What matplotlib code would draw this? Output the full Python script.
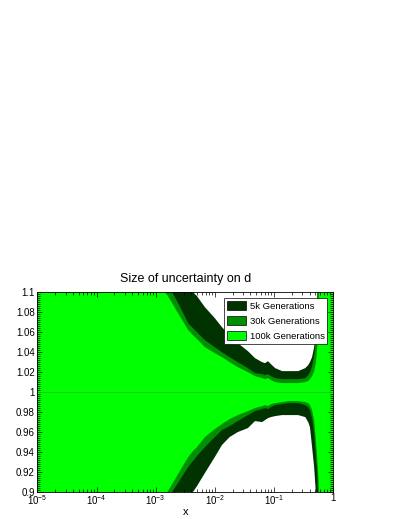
#!/usr/bin/env python3
"""
Size of uncertainty on d: bands for 5k, 30k and 100k generations
"""

import matplotlib
matplotlib.use('Agg')
import matplotlib.pyplot as plt
import numpy as np
from matplotlib.ticker import FixedLocator, FuncFormatter, MultipleLocator, LogLocator, NullFormatter

plt.rcParams['font.family'] = ['Liberation Sans', 'DejaVu Sans']
plt.rcParams['mathtext.default'] = 'regular'

# x grid (shared by all bands)
x = [1e-5, 1.0e-3, 1.41e-3, 1.58e-3, 1.9e-3, 2.5e-3, 3.55e-3, 4.27e-3, 5.0e-3, 6.8e-3,
     0.010, 0.0132, 0.0178, 0.0245, 0.0363, 0.0479, 0.063, 0.0708, 0.0794, 0.089,
     0.105, 0.138, 0.174, 0.257, 0.339, 0.38, 0.407, 0.442, 0.479, 0.513,
     0.537, 0.556, 0.575, 0.603, 1.0]

# 5k generations (widest band)
hi_5k = [1.15, 1.15, 1.15, 1.15, 1.15, 1.15, 1.106, 1.100, 1.096, 1.085,
         1.074, 1.065, 1.057, 1.049, 1.041, 1.034, 1.030, 1.029, 1.031, 1.028,
         1.024, 1.021, 1.021, 1.021, 1.024, 1.027, 1.030, 1.035, 1.045, 1.062,
         1.082, 1.15, 1.15, 1.15, 1.15]
lo_5k = [0.85, 0.85, 0.85, 0.85, 0.85, 0.878, 0.892, 0.900, 0.906, 0.919,
         0.935, 0.947, 0.955, 0.960, 0.964, 0.971, 0.970, 0.972, 0.974, 0.975,
         0.976, 0.977, 0.977, 0.977, 0.975, 0.970, 0.965, 0.945, 0.925, 0.899,
         0.85, 0.85, 0.85, 0.85, 0.85]

# 30k generations
hi_30k = [1.15, 1.15, 1.114, 1.110, 1.100, 1.087, 1.069, 1.064, 1.060, 1.052,
          1.045, 1.040, 1.035, 1.030, 1.024, 1.019, 1.018, 1.017, 1.018, 1.016,
          1.014, 1.013, 1.013, 1.013, 1.014, 1.017, 1.020, 1.026, 1.036, 1.052,
          1.072, 1.15, 1.15, 1.15, 1.15]
lo_30k = [0.85, 0.85, 0.889, 0.892, 0.900, 0.911, 0.925, 0.931, 0.936, 0.945,
          0.955, 0.962, 0.966, 0.971, 0.977, 0.981, 0.983, 0.984, 0.983, 0.985,
          0.987, 0.988, 0.989, 0.989, 0.987, 0.985, 0.982, 0.974, 0.960, 0.937,
          0.922, 0.904, 0.85, 0.85, 0.85]

# 100k generations (narrowest band)
hi_100k = [1.15, 1.12, 1.100, 1.097, 1.089, 1.077, 1.062, 1.057, 1.053, 1.045,
           1.039, 1.035, 1.030, 1.025, 1.020, 1.016, 1.014, 1.013, 1.014, 1.012,
           1.010, 1.009, 1.009, 1.009, 1.010, 1.011, 1.013, 1.016, 1.021, 1.029,
           1.042, 1.057, 1.082, 1.15, 1.15]
lo_100k = [0.85, 0.882, 0.897, 0.900, 0.908, 0.920, 0.935, 0.941, 0.945, 0.955,
           0.963, 0.968, 0.973, 0.977, 0.981, 0.984, 0.986, 0.987, 0.986, 0.988,
           0.989, 0.990, 0.991, 0.991, 0.990, 0.989, 0.987, 0.982, 0.972, 0.952,
           0.937, 0.922, 0.907, 0.85, 0.85]

labels = ['5k Generations', '30k Generations', '100k Generations']
colors = ['#003300', '#008f00', '#00ff00']

fig = plt.figure(figsize=(4.01, 5.19), dpi=100, facecolor='white')
ax = fig.add_axes([0.0935, 0.052, 0.737, 0.385])

bands = [(lo_5k, hi_5k), (lo_30k, hi_30k), (lo_100k, hi_100k)]
for (lo, hi), c, lab in zip(bands, colors, labels):
    ax.fill_between(x, lo, hi, facecolor=c, edgecolor='none', linewidth=0,
                    label=lab)

# faint reference line at 1
ax.axhline(1.0, color='#22c522', linewidth=0.6, zorder=3)

ax.set_xscale('log')
ax.set_xlim(1e-5, 1)
ax.set_ylim(0.9, 1.1)

ax.xaxis.set_major_locator(FixedLocator([1e-5, 1e-4, 1e-3, 1e-2, 1e-1, 1]))
ax.set_xticklabels(['$10^{-5}$', '$10^{-4}$', '$10^{-3}$', '$10^{-2}$', '$10^{-1}$', '1'])
ax.xaxis.set_minor_locator(LogLocator(base=10, subs=np.arange(2, 10), numticks=20))
ax.xaxis.set_minor_formatter(NullFormatter())

ax.yaxis.set_major_locator(MultipleLocator(0.02))
ax.yaxis.set_minor_locator(MultipleLocator(0.002))
ax.yaxis.set_major_formatter(FuncFormatter(lambda v, p: '%g' % round(v, 3)))

ax.tick_params(which='both', direction='in', top=True, right=True,
               labelsize=7, width=0.5, colors='black')
ax.tick_params(axis='x', pad=1)
ax.tick_params(axis='y', pad=2)
ax.tick_params(which='major', length=3.5)
ax.tick_params(which='minor', length=2)
for sp in ax.spines.values():
    sp.set_linewidth(0.6)
    sp.set_color('black')
    sp.set_zorder(5)

ax.set_title('Size of uncertainty on d', fontsize=9, pad=7)
ax.set_xlabel('x', fontsize=8, labelpad=0)

leg = ax.legend(loc='upper right', fontsize=6.8, handlelength=2.0, handleheight=1.13,
                labelspacing=0.56, handletextpad=0.42, borderpad=0.3,
                borderaxespad=0.6, fancybox=False, framealpha=1, edgecolor='black')
leg.get_frame().set_linewidth(0.5)
for h in leg.legend_handles:
    h.set_edgecolor('black')
    h.set_linewidth(0.5)

fig.savefig('out.png', dpi=100, facecolor='white')
